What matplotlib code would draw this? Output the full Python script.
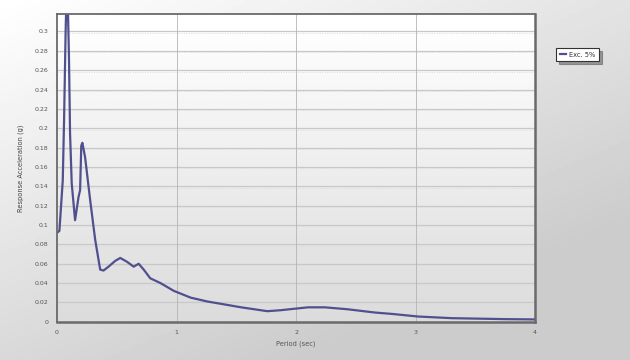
"""Response spectrum plot, 5% damping."""

import matplotlib.pyplot as plt
import numpy as np

# spectrum samples: period (sec) and spectral acceleration (g)
period = [0.0, 0.02, 0.048, 0.059, 0.072, 0.081, 0.09, 0.10, 0.109, 0.123,
          0.151, 0.18, 0.193, 0.203, 0.212, 0.235, 0.277, 0.319, 0.361, 0.389,
          0.431, 0.487, 0.529, 0.586, 0.641, 0.683, 0.725, 0.78, 0.866,
          0.977, 1.118, 1.258, 1.40, 1.54, 1.76, 1.87, 2.10, 2.24, 2.43,
          2.66, 2.80, 3.02, 3.30, 3.75, 4.0]
accel = [0.092, 0.094, 0.146, 0.208, 0.30, 0.345, 0.33, 0.273, 0.195, 0.143,
         0.105, 0.129, 0.136, 0.182, 0.185, 0.170, 0.126, 0.085, 0.054, 0.053,
         0.057, 0.063, 0.066, 0.062, 0.057, 0.060, 0.054, 0.045, 0.040,
         0.032, 0.025, 0.021, 0.018, 0.015, 0.011, 0.012, 0.015, 0.015,
         0.013, 0.0096, 0.0082, 0.0055, 0.0038, 0.0028, 0.0025]

y_ticks = [0, 0.02, 0.04, 0.06, 0.08, 0.1, 0.12, 0.14, 0.16, 0.18, 0.2,
           0.22, 0.24, 0.26, 0.28, 0.3]
y_labels = ["0", "0.02", "0.04", "0.06", "0.08", "0.1", "0.12", "0.14",
            "0.16", "0.18", "0.2", "0.22", "0.24", "0.26", "0.28", "0.3"]
x_ticks = [0, 1, 2, 3, 4]

fig = plt.figure(figsize=(6.3, 3.6), dpi=100)

# diagonal grey gradient behind everything
bg = fig.add_axes([0, 0, 1, 1], zorder=-10)
gx, gy = np.meshgrid(np.linspace(0, 1, 200), np.linspace(0, 1, 120))
shade = 1.0 - 0.2 * np.clip(0.55 * gx + 0.75 * gy, 0, 1)
bg.imshow(shade, cmap="gray", vmin=0, vmax=1, aspect="auto",
          extent=[0, 1, 0, 1], origin="upper")
bg.axis("off")

ax = fig.add_axes([0.0905, 0.106, 0.759, 0.855])
ax.set_facecolor("none")

# plot area: white at the top fading to light grey
inner = np.linspace(1.0, 0.86, 100)[:, None] * np.ones((1, 10))
ax.imshow(inner, cmap="gray", vmin=0, vmax=1, aspect="auto",
          extent=[0, 1, 0, 1], transform=ax.transAxes, zorder=0)

for yv in y_ticks[1:]:
    ax.axhline(yv, color="#c8c8c8", lw=0.9, zorder=1)
    ax.axhline(yv - 0.0015, color="#dcdcdc", lw=0.7, ls=(0, (1, 1.5)), zorder=1)
for xv in x_ticks[1:-1]:
    ax.axvline(xv, color="#b4b4b4", lw=0.6, zorder=1)

ax.plot(period, accel, color="#50508e", lw=1.6, zorder=3,
        solid_joinstyle="round", label="Exc. 5%")

ax.set_xlim(0, 4)
ax.set_ylim(0, 0.318)
ax.set_xticks(x_ticks)
ax.set_yticks(y_ticks)
ax.set_yticklabels(y_labels)
ax.tick_params(length=0, labelsize=4.5, colors="#555555", pad=6)
ax.set_xlabel("Period (sec)", fontsize=4.8, color="#555555", labelpad=4)
ax.set_ylabel("Response Acceleration (g)", fontsize=4.8, color="#444444",
              labelpad=8)
for side, sp in ax.spines.items():
    sp.set_color("#6a6a6a")
    sp.set_linewidth(1.3 if side in ("top", "left") else 1.8)
    sp.set_zorder(4)

leg = fig.legend(loc="upper left", bbox_to_anchor=(0.878, 0.875),
                 fontsize=4.8, frameon=True, fancybox=False, shadow=True,
                 handlelength=1.0, handletextpad=0.4, borderpad=0.5)
leg.get_frame().set_edgecolor("#333333")
leg.get_frame().set_linewidth(0.8)
for t in leg.get_texts():
    t.set_color("#333333")

plt.savefig("out.png", dpi=100)
plt.close()
